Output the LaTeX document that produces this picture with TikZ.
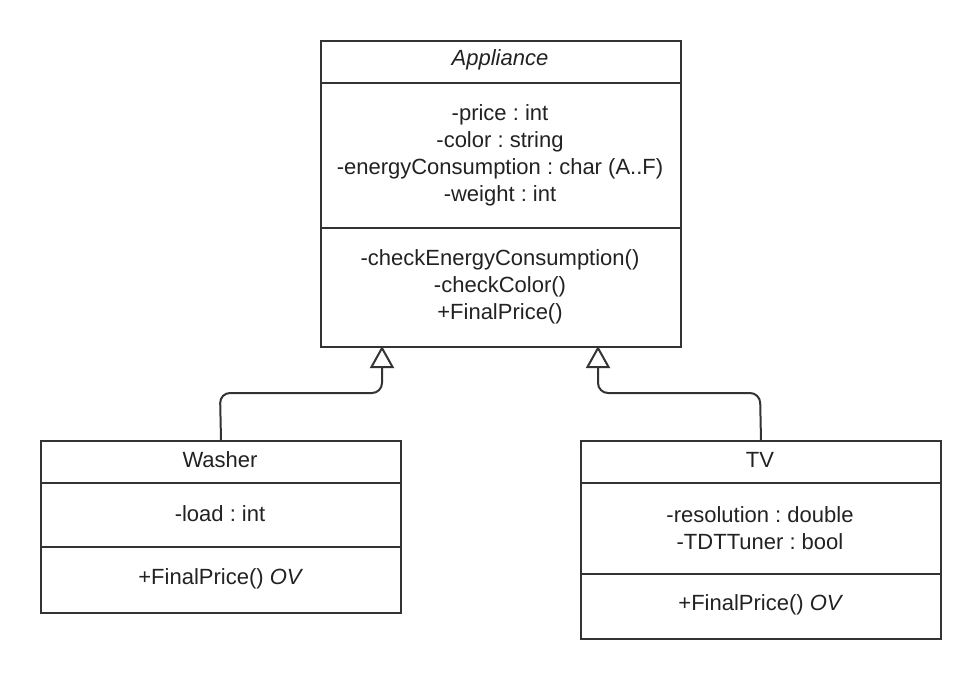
\documentclass[tikz,border=0pt]{standalone}
\usepackage{fontspec}
\setmainfont{Liberation Sans}
\frenchspacing
\usetikzlibrary{arrows.meta}
\definecolor{ln}{HTML}{333333}
\definecolor{tx}{HTML}{222222}
\begin{document}
\begin{tikzpicture}[x=1pt,y=-1pt,
  box/.style={draw=ln,line width=2pt,fill=white},
  sep/.style={draw=ln,line width=2pt},
  txt/.style={text=tx,font=\fontsize{22}{27}\selectfont\frenchspacing,align=center,inner sep=0pt},
  inh/.style={draw=ln,line width=2pt,rounded corners=10pt,-{Triangle[open,width=24pt,length=22pt,line width=2pt]}}]
\useasboundingbox (0,0) rectangle (980,679);
% Appliance
\node[box,minimum width=360pt,minimum height=306pt,anchor=north west,inner sep=0pt] (app) at (320,40) {};
\draw[sep] (320,83) -- (680,83);
\draw[sep] (320,228) -- (680,228);
\node[txt] (appt) at (500,60) {\itshape Appliance};
\node[txt] (appa) at (500,155) {-price : int\\-color : string\\-energyConsumption : char (A..F)\\-weight : int};
\node[txt] (appm) at (500,287) {-checkEnergyConsumption()\\-checkColor()\\+FinalPrice()};
% Washer
\node[box,minimum width=360pt,minimum height=172pt,anchor=north west,inner sep=0pt] (wash) at (40,440) {};
\draw[sep] (40,483) -- (400,483);
\draw[sep] (40,547) -- (400,547);
\node[txt] (washt) at (220,460) {Washer};
\node[txt] (washa) at (220,514) {-load : int};
\node[txt] (washm) at (220,579) {+FinalPrice() \itshape OV};
% TV
\node[box,minimum width=360pt,minimum height=198pt,anchor=north west,inner sep=0pt] (tv) at (580,440) {};
\draw[sep] (580,483) -- (940,483);
\draw[sep] (580,574) -- (940,574);
\node[txt] (tvt) at (760,460) {TV};
\node[txt] (tva) at (760,528) {-resolution : double\\-TDTTuner : bool};
\node[txt] (tvm) at (760,605) {+FinalPrice() \itshape OV};
% connectors
\coordinate (wtop) at (220,393);
\coordinate (wend) at (382,346);
\coordinate (ttop) at (760,393);
\coordinate (tend) at (598,346);
\draw[inh] (wash.north) -- (wtop) -| (wend);
\draw[inh] (tv.north) -- (ttop) -| (tend);
\end{tikzpicture}
\end{document}
